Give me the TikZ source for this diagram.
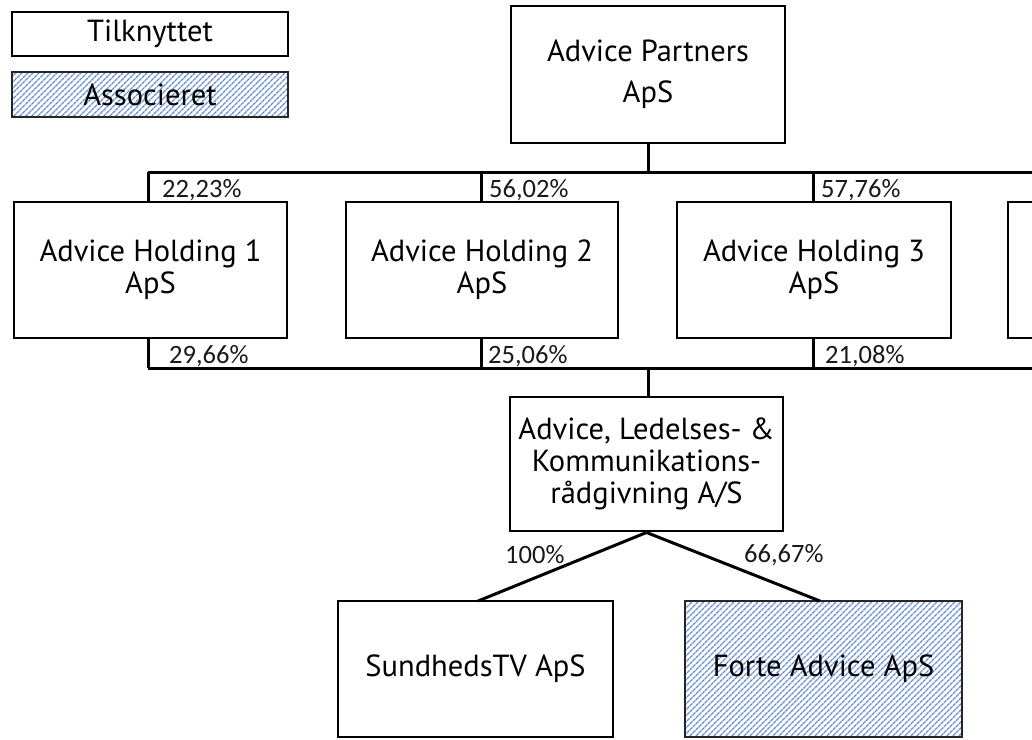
\documentclass[tikz,border=0pt]{standalone}
\usepackage{fontspec}
\setmainfont{PT Sans}
\newfontfamily\pctfont{Carlito}
\usetikzlibrary{patterns.meta}
\definecolor{hatch}{RGB}{105,145,210}
\tikzset{
  box/.style={draw=black, line width=2.95pt, fill=white, inner sep=0pt, align=center,
    font=\fontsize{30.5}{32}\selectfont},
  assoc/.style={draw=black!85, line width=1.2pt, inner sep=0pt, align=center,
    pattern={Lines[angle=45,distance=4pt,line width=1.5pt]}, pattern color=hatch,
    font=\fontsize{30.5}{32}\selectfont},
  conn/.style={line width=3.0pt},
  pct/.style={font=\pctfont\fontsize{26.5}{28}\selectfont, inner sep=0pt, text=black!90, anchor=west}
}
\begin{document}
\begin{tikzpicture}[x=1pt,y=-1pt]
\useasboundingbox (0,0) rectangle (1032,739);
% legend
\node[box, minimum width=276, minimum height=44] (leg1) at (150,34) {Tilknyttet};
\node[assoc, minimum width=276, minimum height=45] (leg2) at (150,94.5) {Associeret};
% top
\node[box, minimum width=274, minimum height=137, font=\fontsize{30.5}{41}\selectfont] (ap) at (648,74.5) {Advice Partners\\ApS};
% holdings
\node[box, minimum width=273, minimum height=136] (h1) at (150.5,270) {Advice Holding 1\\ApS};
\node[box, minimum width=272, minimum height=136] (h2) at (482,270) {Advice Holding 2\\ApS};
\node[box, minimum width=274, minimum height=136] (h3) at (814,270) {Advice Holding 3\\ApS};
\node[box, minimum width=274, minimum height=136] (h4) at (1145,270) {};
% ALK
\node[box, minimum width=273, minimum height=134] (alk) at (646.5,464) {Advice, Ledelses- \&\\Kommunikations-\\rådgivning A/S};
% bottom
\node[box, minimum width=275, minimum height=136] (stv) at (475.5,669) {SundhedsTV ApS};
\node[assoc, minimum width=277, minimum height=136] (forte) at (823.5,669) {Forte Advice ApS};
% top bus
\coordinate (tb) at (648,172);
\coordinate (tl) at (148,172);
\coordinate (tr) at (1040,172);
\coordinate (t1) at (148,172);
\coordinate (t2) at (481,172);
\coordinate (t3) at (813,172);
\draw[conn] (ap.south) -- (tb);
\draw[conn] (tl) -- (tr);
\draw[conn] (t1) -- (t1 |- h1.north);
\draw[conn] (t2) -- (t2 |- h2.north);
\draw[conn] (t3) -- (t3 |- h3.north);
% bottom bus
\coordinate (bb) at (648,368);
\coordinate (bl) at (148,368);
\coordinate (br) at (1040,368);
\coordinate (b1) at (148,368);
\coordinate (b2) at (481,368);
\coordinate (b3) at (813,368);
\draw[conn] (bl) -- (br);
\draw[conn] (b1) -- (b1 |- h1.south);
\draw[conn] (b2) -- (b2 |- h2.south);
\draw[conn] (b3) -- (b3 |- h3.south);
\draw[conn] (bb) -- (bb |- alk.north);
% subsidiaries
\coordinate (sa) at (478,601);
\coordinate (fa) at (820,601);
\draw[conn] (alk.south) -- (sa);
\draw[conn] (alk.south) -- (fa);
% labels
\node[pct] (l1) at (162,190) {22,23\%};
\node[pct] (l2) at (489,190) {56,02\%};
\node[pct] (l3) at (821,190) {57,76\%};
\node[pct] (l4) at (169,356) {29,66\%};
\node[pct] (l5) at (488,356) {25,06\%};
\node[pct] (l6) at (825,356) {21,08\%};
\node[pct] (l7) at (505,555) {100\%};
\node[pct] (l8) at (744,555) {66,67\%};
\end{tikzpicture}
\end{document}
